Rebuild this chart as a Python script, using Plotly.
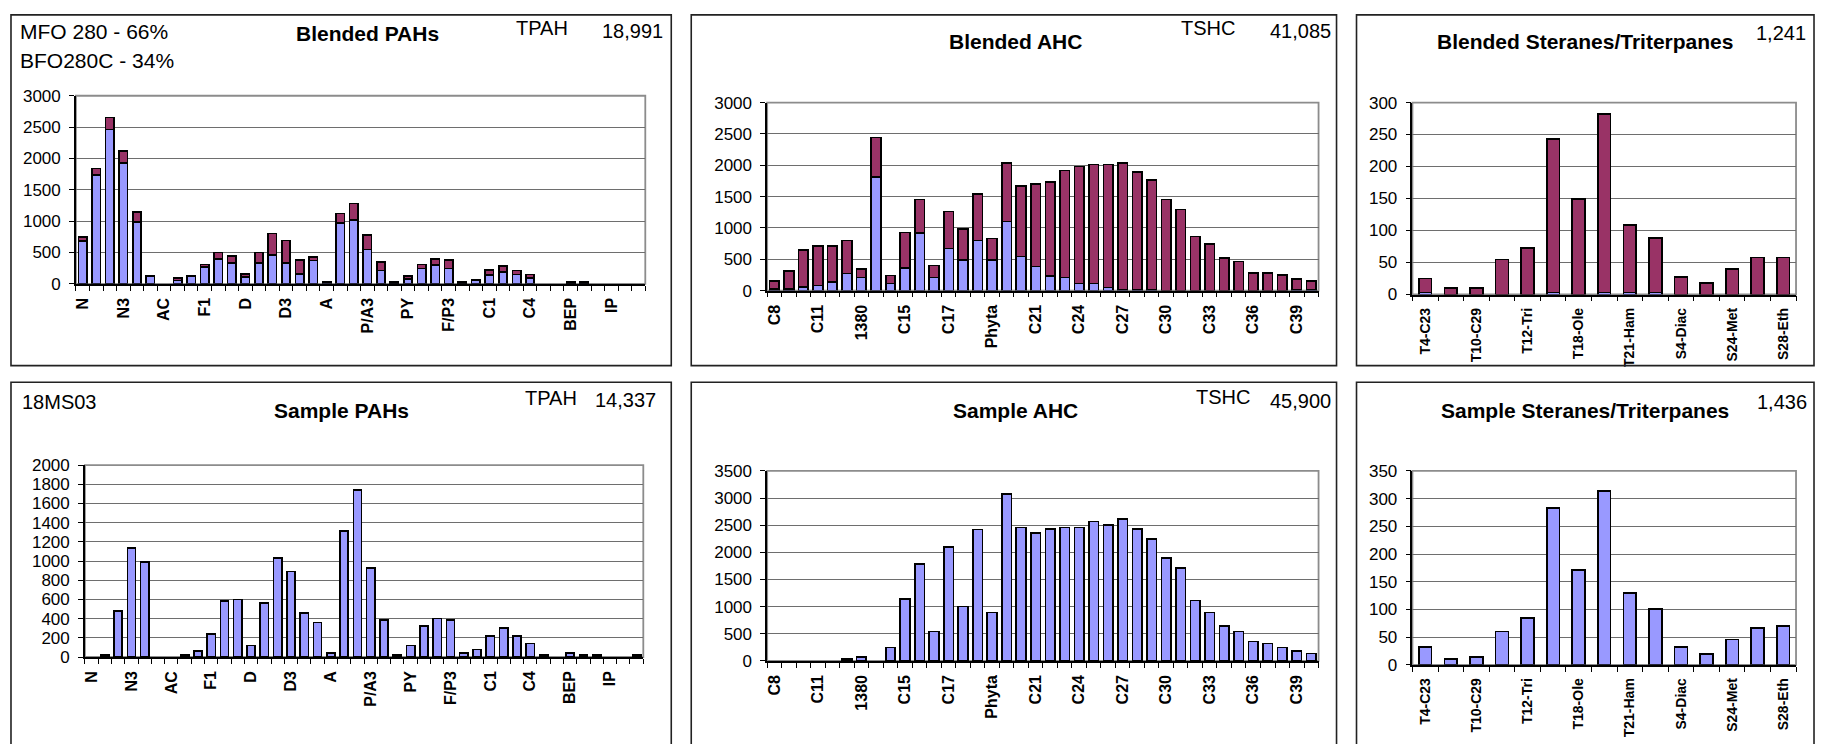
import plotly.graph_objects as go

W, H = 1823, 744

# ---------------- data ----------------
pah_names = ["N", "N1", "N2", "N3", "N4", "B", "AC", "ACL", "F", "F1", "F2", "F3",
             "D", "D1", "D2", "D3", "D4", "P", "A", "P/A1", "P/A2", "P/A3", "P/A4",
             "FL", "PY", "F/P1", "F/P2", "F/P3", "BA", "C", "C1", "C2", "C3", "C4",
             "BBF", "BKF", "BEP", "BAP", "PE", "IP", "DA", "GHI"]
pah_blend_mfo = [680, 1740, 2460, 1930, 990, 120, 0, 50, 115, 270, 400, 335,
                 110, 335, 460, 335, 155, 370, 20, 970, 1020, 550, 210,
                 10, 80, 245, 300, 245, 10, 55, 145, 185, 150, 95,
                 0, 0, 10, 10, 0, 0, 0, 0]
pah_blend_bfo = [70, 100, 190, 190, 160, 5, 0, 40, 5, 35, 100, 105,
                 45, 165, 345, 355, 220, 60, 15, 150, 260, 230, 135,
                 20, 45, 65, 100, 130, 20, 10, 75, 100, 65, 55,
                 0, 0, 20, 20, 0, 0, 0, 0]
pah_sample = [0, 20, 480, 1135, 990, 0, 0, 20, 60, 240, 585, 600,
              120, 565, 1030, 890, 460, 360, 40, 1315, 1740, 930, 385,
              20, 120, 320, 400, 385, 40, 80, 220, 300, 220, 140,
              20, 0, 40, 20, 20, 0, 0, 20]

ahc_names = ["C8", "C9", "C10", "C11", "C12", "C13", "1380", "C14", "1470", "C15",
             "C16", "1650", "C17", "Prist", "C18", "Phyta", "C19", "C20", "C21",
             "C22", "C23", "C24", "C25", "C26", "C27", "C28", "C29", "C30", "C31",
             "C32", "C33", "C34", "C35", "C36", "C37", "C38", "C39", "C40"]
ahc_blend_mfo = [25, 30, 55, 80, 140, 270, 210, 1815, 115, 360,
                 920, 212, 670, 490, 800, 490, 1100, 547, 387,
                 235, 207, 112, 115, 50, 20, 15, 15, 0, 0,
                 0, 0, 0, 0, 0, 0, 0, 15, 15]
ahc_blend_bfo = [130, 280, 590, 627, 567, 530, 131, 628, 128, 570,
                 531, 191, 595, 491, 739, 341, 940, 1121, 1312,
                 1495, 1708, 1868, 1895, 1960, 2020, 1875, 1750, 1455, 1295,
                 865, 745, 525, 465, 285, 285, 250, 170, 140]
ahc_sample = [0, 0, 0, 0, 0, 30, 70, 0, 250, 1140,
              1790, 540, 2100, 1000, 2420, 895, 3070, 2460, 2360,
              2430, 2460, 2460, 2570, 2500, 2610, 2430, 2250, 1895, 1715,
              1110, 895, 645, 540, 360, 320, 250, 180, 140]

bio_names = ["T4-C23", "T5-C24", "T10-C29", "T11-Ts", "T12-Tri", "T14-Tm",
             "T18-Ole", "T19-Hop", "T21-Ham", "T22-Hom", "S4-Diac", "S14-Reg",
             "S24-Met", "S25-Met", "S28-Eth"]
bio_blend_mfo = [3, 0, 0, 0, 0, 3, 0, 3, 3, 3, 0, 0, 0, 0, 0]
bio_blend_bfo = [22, 10, 10, 55, 73, 240, 149, 279, 106, 85, 27, 18, 40, 58, 58]
bio_sample = [32, 10, 14, 60, 84, 283, 171, 314, 130, 101, 32, 20, 46, 66, 70]

BLUE = "#9999FF"
MAROON = "#993366"
FONT = "Liberation Sans, Arial, sans-serif"


def px_x(v):
    return v / W


def px_y(v):
    return 1 - v / H


fig = go.Figure()

# plot areas in pixels (x0, x1, y_top, y_bottom) and their axis suffixes
panels = [
    dict(ax="", dom=(74, 644, 89, 282), names=pah_names, step=3, ymax=3000, dtick=500,
         series=[pah_blend_mfo, pah_blend_bfo], width=0.62, lab=16),
    dict(ax="2", dom=(766, 1318, 96, 289), names=ahc_names, step=3, ymax=3000, dtick=500,
         series=[ahc_blend_mfo, ahc_blend_bfo], width=0.66, lab=16),
    dict(ax="3", dom=(1412, 1796, 96, 293), names=bio_names, step=2, ymax=300, dtick=50,
         series=[bio_blend_mfo, bio_blend_bfo], width=0.5, lab=14),
    dict(ax="4", dom=(83, 642, 468, 665), names=pah_names, step=3, ymax=2000, dtick=200,
         series=[pah_sample], width=0.62, lab=16),
    dict(ax="5", dom=(766, 1318, 474, 669), names=ahc_names, step=3, ymax=3500, dtick=500,
         series=[ahc_sample], width=0.66, lab=16),
    dict(ax="6", dom=(1412, 1796, 474, 673), names=bio_names, step=2, ymax=350, dtick=50,
         series=[bio_sample], width=0.5, lab=14),
]

shapes = []
for p in panels:
    n = len(p["names"])
    xs = list(range(n))
    colors = [BLUE, MAROON] if len(p["series"]) == 2 else [BLUE]
    for vals, col in zip(p["series"], colors):
        # empty compounds get no bar at all
        fig.add_trace(go.Bar(
            x=xs, y=[v if v else None for v in vals], width=p["width"],
            marker=dict(color=col, line=dict(color="black", width=1.6)),
            xaxis="x" + p["ax"], yaxis="y" + p["ax"], showlegend=False,
        ))
    x0, x1, y0, y1 = p["dom"]
    xkey = "xaxis" + p["ax"]
    ykey = "yaxis" + p["ax"]
    fig.layout[xkey] = dict(
        domain=[px_x(x0), px_x(x1)], anchor="y" + p["ax"],
        range=[-0.5, n - 0.5], tickmode="array",
        tickvals=xs[::p["step"]], ticktext=p["names"][::p["step"]],
        tickangle=-90, ticks="outside", ticklen=0, ticklabelstandoff=6,
        showline=True, linecolor="black", linewidth=1.5,
        showgrid=False, zeroline=False, fixedrange=True,
        tickfont=dict(family=FONT, size=p["lab"], color="black", weight="bold"),
        minor=dict(tickmode="array", tickvals=[k - 0.5 for k in range(n + 1)],
                   ticks="outside", ticklen=5, tickwidth=1.4, tickcolor="black",
                   showgrid=False),
    )
    fig.layout[ykey] = dict(
        domain=[px_y(y1), px_y(y0)], anchor="x" + p["ax"],
        range=[0, p["ymax"]], tick0=0, dtick=p["dtick"],
        ticks="outside", ticklen=5, tickwidth=1.4, tickcolor="black",
        ticklabelstandoff=5,
        showline=True, linecolor="black", linewidth=1.5,
        showgrid=True, gridcolor="#6e6e6e", gridwidth=1.3, zeroline=False,
        fixedrange=True,
        tickfont=dict(family=FONT, size=17, color="black"),
    )
    # grey plot-area border
    shapes.append(dict(type="rect", xref="x" + p["ax"] + " domain",
                       yref="y" + p["ax"] + " domain", x0=0, x1=1, y0=0, y1=1,
                       line=dict(color="#8c8c8c", width=1.8), layer="below"))

# outer chart frames
for fx0, fx1 in [(9, 670), (690, 1336), (1356, 1814)]:
    shapes.append(dict(type="rect", xref="paper", yref="paper",
                       x0=px_x(fx0), x1=px_x(fx1), y0=px_y(366), y1=px_y(6),
                       line=dict(color="#222222", width=1.6)))
    shapes.append(dict(type="rect", xref="paper", yref="paper",
                       x0=px_x(fx0), x1=px_x(fx1), y0=px_y(760), y1=px_y(383),
                       line=dict(color="#222222", width=1.6)))

annotations = []


def text(s, x, y, size, anchor="left", bold=False):
    annotations.append(dict(
        text=s, x=px_x(x), y=px_y(y), xref="paper", yref="paper",
        xanchor=anchor, yanchor="middle", showarrow=False,
        font=dict(family=FONT, size=size, color="black",
                  weight="bold" if bold else "normal"),
    ))


# top row
text("MFO 280 - 66%", 16, 23, 21)
text("BFO280C - 34%", 16, 53, 21)
text("Blended PAHs", 366, 25, 21, "center", True)
text("TPAH", 513, 20, 20)
text("18,991", 664, 23, 20, "right")
text("Blended AHC", 1015, 33, 21, "center", True)
text("TSHC", 1178, 20, 20)
text("41,085", 1332, 23, 20, "right")
text("Blended Steranes/Triterpanes", 1585, 33, 21, "center", True)
text("1,241", 1808, 25, 20, "right")
# bottom row
text("18MS03", 18, 403, 20)
text("Sample PAHs", 340, 412, 21, "center", True)
text("TPAH", 522, 399, 20)
text("14,337", 657, 401, 20, "right")
text("Sample AHC", 1015, 412, 21, "center", True)
text("TSHC", 1193, 398, 20)
text("45,900", 1332, 402, 20, "right")
text("Sample Steranes/Triterpanes", 1585, 412, 21, "center", True)
text("1,436", 1809, 403, 20, "right")

fig.update_layout(
    width=W, height=H, autosize=False,
    margin=dict(l=0, r=0, t=0, b=0),
    paper_bgcolor="white", plot_bgcolor="white",
    barmode="stack", showlegend=False,
    shapes=shapes, annotations=annotations,
    font=dict(family=FONT, color="black"),
)

fig.write_html("out.html", config={"displayModeBar": False})
